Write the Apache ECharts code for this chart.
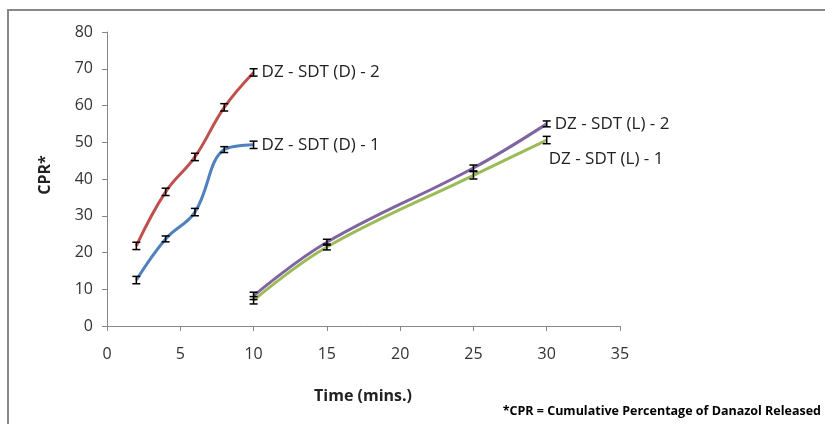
<!DOCTYPE html>
<html>
<head>
<meta charset="utf-8">
<script src="https://cdn.jsdelivr.net/npm/echarts@6/dist/echarts.min.js"></script>
<style>
  html, body { margin: 0; padding: 0; background: #fff; }
  #chart { width: 825px; height: 424px; }
</style>
</head>
<body>
<div id="chart"></div>
<script>
  // times (mins.)
  var timeD = [2, 4, 6, 8, 10];
  var timeL = [10, 15, 25, 30];
  // CPR values
  var cprD2 = [21.8, 36.5, 46, 59.5, 69];
  var cprD1 = [12.5, 23.7, 31, 48, 49.3];
  var cprL2 = [8.2, 22.8, 43, 55];
  var cprL1 = [7, 21.5, 41, 50.6];
  // error (+/-)
  var errD2 = [1, 1, 1, 1, 1];
  var errD1 = [1, 0.8, 1, 0.8, 1];
  var errL2 = [1, 0.8, 0.8, 0.8];
  var errL1 = [1, 0.8, 1, 1];

  var names = ['DZ - SDT (D) - 2', 'DZ - SDT (D) - 1', 'DZ - SDT (L) - 2', 'DZ - SDT (L) - 1'];

  function pts(xs, ys) {
    return xs.map(function (x, i) { return [x, ys[i]]; });
  }
  function errPts(xs, ys, es) {
    return xs.map(function (x, i) { return [x, ys[i], es[i]]; });
  }

  function lineSeries(name, xs, ys, color, z, labelOffset) {
    return {
      name: name,
      type: 'line',
      smooth: 0.4,
      symbol: 'none',
      z: z,
      lineStyle: { color: color, width: 3 },
      endLabel: {
        show: true,
        formatter: name,
        color: '#222',
        fontSize: 17,
        fontFamily: 'Open Sans',
        distance: 8,
        offset: labelOffset || [0, 0]
      },
      data: pts(xs, ys)
    };
  }

  function errSeries(xs, ys, es) {
    return {
      type: 'custom',
      z: 10,
      renderItem: function (params, api) {
        var x = api.value(0), y = api.value(1), e = api.value(2);
        var hi = api.coord([x, y + e]);
        var lo = api.coord([x, y - e]);
        var w = 4;
        var st = { stroke: '#000', lineWidth: 1.5 };
        return {
          type: 'group',
          children: [
            { type: 'line', shape: { x1: hi[0], y1: hi[1], x2: lo[0], y2: lo[1] }, style: st },
            { type: 'line', shape: { x1: hi[0] - w, y1: hi[1], x2: hi[0] + w, y2: hi[1] }, style: st },
            { type: 'line', shape: { x1: lo[0] - w, y1: lo[1], x2: lo[0] + w, y2: lo[1] }, style: st }
          ]
        };
      },
      data: errPts(xs, ys, es)
    };
  }

  var chart = echarts.init(document.getElementById('chart'));
  var axisText = { color: '#333', fontSize: 16, fontFamily: 'Open Sans' };
  var option = {
    animation: false,
    grid: { left: 107, right: 205, top: 32, bottom: 98 },
    graphic: [
      {
        type: 'rect',
        shape: { x: 8, y: 10, width: 900, height: 500 },
        style: { fill: 'none', stroke: '#888', lineWidth: 2 },
        silent: true
      },
      {
        type: 'text',
        x: 363, y: 396,
        style: {
          text: 'Time (mins.)', align: 'center', verticalAlign: 'middle',
          font: 'bold 16px "Open Sans"', fill: '#222'
        }
      },
      {
        type: 'text',
        x: 45, y: 175, rotation: Math.PI / 2,
        style: {
          text: 'CPR*', align: 'center', verticalAlign: 'middle',
          font: 'bold 16px "Open Sans"', fill: '#222'
        }
      },
      {
        type: 'text',
        x: 821, y: 411,
        style: {
          text: '*CPR = Cumulative Percentage of Danazol Released', align: 'right', verticalAlign: 'middle',
          font: 'bold 12.5px "Open Sans"', fill: '#000'
        }
      }
    ],
    xAxis: {
      type: 'value',
      min: 0, max: 35, interval: 5,
      splitLine: { show: false },
      axisLine: { onZero: false, lineStyle: { color: '#888' } },
      axisTick: { show: true, length: 5, lineStyle: { color: '#888' } },
      axisLabel: Object.assign({ margin: 20 }, axisText)
    },
    yAxis: {
      type: 'value',
      min: 0, max: 80, interval: 10,
      splitLine: { show: false },
      axisLine: { show: true, lineStyle: { color: '#888' } },
      axisTick: { show: true, length: 5, lineStyle: { color: '#888' } },
      axisLabel: Object.assign({ margin: 14 }, axisText)
    },
    series: [
      lineSeries(names[0], timeD, cprD2, '#C0504D', 3),
      lineSeries(names[1], timeD, cprD1, '#4F81BD', 3),
      lineSeries(names[3], timeL, cprL1, '#9BBB59', 3, [-6, 19]),
      lineSeries(names[2], timeL, cprL2, '#8064A2', 4),
      errSeries(timeD, cprD2, errD2),
      errSeries(timeD, cprD1, errD1),
      errSeries(timeL, cprL2, errL2),
      errSeries(timeL, cprL1, errL1)
    ]
  };
  chart.setOption(option);
</script>
</body>
</html>
